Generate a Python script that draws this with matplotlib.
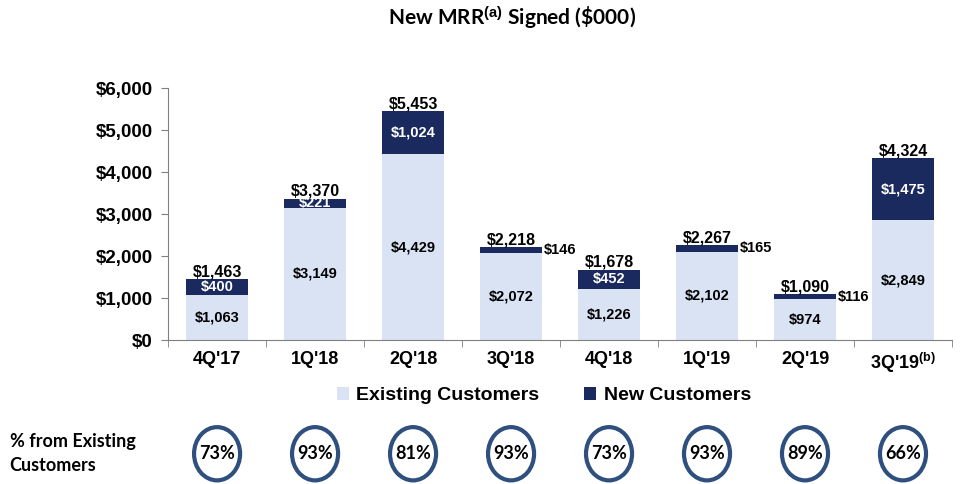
import matplotlib
matplotlib.use('Agg')
import matplotlib.pyplot as plt
from matplotlib.patches import Ellipse
from matplotlib.ticker import FuncFormatter, FixedLocator

# data ($000)
quarters = ["4Q'17", "1Q'18", "2Q'18", "3Q'18", "4Q'18", "1Q'19", "2Q'19", "3Q'19$^{(b)}$"]
existing = [1063, 3149, 4429, 2072, 1226, 2102, 974, 2849]
new_cust = [400, 221, 1024, 146, 452, 165, 116, 1475]
totals = [1463, 3370, 5453, 2218, 1678, 2267, 1090, 4324]
pct_existing = [73, 93, 81, 93, 73, 93, 89, 66]

light = '#dae3f3'
dark = '#1b2a5e'
ring = '#2f4f7f'
calibri = 'Lato'   # closest installed stand-in for Calibri
arial = 'Liberation Sans'

plt.rcParams['font.family'] = arial
plt.rcParams['mathtext.fontset'] = 'custom'
plt.rcParams['mathtext.rm'] = 'Liberation Sans:bold'
plt.rcParams['mathtext.it'] = 'Liberation Sans:bold'
plt.rcParams['mathtext.bf'] = 'Liberation Sans:bold'

fig = plt.figure(figsize=(9.66, 4.84), dpi=100)
ax = fig.add_axes([0.174, 0.2975, 0.8115, 0.5205])

x = list(range(len(quarters)))
w = 0.63
ax.bar(x, existing, w, color=light, label='Existing Customers', zorder=2)
ax.bar(x, new_cust, w, bottom=existing, color=dark, label='New Customers', zorder=2)

for i in x:
    ax.text(i, existing[i] / 2, '${:,}'.format(existing[i]), ha='center', va='center',
            fontsize=10.5, fontweight='bold', color='black', zorder=3)
    ax.text(i, totals[i] - 10, '${:,}'.format(totals[i]), ha='center', va='bottom',
            fontsize=11.5, fontweight='bold', color='black', zorder=4)
    mid = existing[i] + new_cust[i] / 2
    if new_cust[i] < 200:
        ax.text(i + w / 2 + 0.02, mid, '${:,}'.format(new_cust[i]), ha='left', va='center',
                fontsize=10.5, fontweight='bold', color='black', zorder=3)
    else:
        # the $221 label is squeezed into the thin band, as in the original
        ax.text(i, mid, '${:,}'.format(new_cust[i]), ha='center', va='center',
                fontsize=10.5, fontweight='bold', color='white', zorder=3)

ax.set_xlim(-0.5, len(quarters) - 0.5)
ax.set_ylim(0, 6000)
ax.set_yticks(range(0, 6001, 1000))
ax.yaxis.set_major_formatter(FuncFormatter(lambda v, p: '${:,.0f}'.format(v)))
ax.set_xticks(x)
ax.set_xticklabels(quarters)
ax.xaxis.set_minor_locator(FixedLocator([i + 0.5 for i in range(-1, len(quarters))]))
ax.tick_params(axis='x', which='major', length=0, pad=8, labelsize=13)
ax.tick_params(axis='x', which='minor', length=5, color='#808080', direction='out')
ax.tick_params(axis='y', length=5, color='#808080', labelsize=13.5, pad=6)
for lab in ax.get_xticklabels() + ax.get_yticklabels():
    lab.set_fontweight('bold')
for s in ['top', 'right']:
    ax.spines[s].set_visible(False)
for s in ['left', 'bottom']:
    ax.spines[s].set_color('#808080')

fig.text(0.53, 0.962, 'New MRR$^{(a)}$ Signed (\\$000)', ha='center', va='center',
         fontsize=15, fontweight='bold', family=calibri)

fig.legend(loc='center', bbox_to_anchor=(0.563, 0.182), ncol=2, frameon=False,
           prop={'family': arial, 'weight': 'bold', 'size': 14},
           handlelength=0.6, handleheight=0.6, handletextpad=0.4, columnspacing=2.3)

# circle row with share from existing customers
cax = fig.add_axes([0.174, 0.0, 0.8115, 0.125])
cax.set_xlim(-0.5, len(quarters) - 0.5)
cax.set_ylim(0, 1)
cax.axis('off')
for i in x:
    cax.add_patch(Ellipse((i, 0.5), 0.47, 0.88, facecolor='white', edgecolor=ring, lw=3))
    cax.text(i, 0.5, '{}%'.format(pct_existing[i]), ha='center', va='center',
             fontsize=13, fontweight='bold', family=calibri)

fig.text(0.01, 0.088, '% from Existing', ha='left', va='center', fontsize=13,
         fontweight='bold', family=calibri)
fig.text(0.01, 0.038, 'Customers', ha='left', va='center', fontsize=13,
         fontweight='bold', family=calibri)

fig.savefig('out.png', dpi=100)
